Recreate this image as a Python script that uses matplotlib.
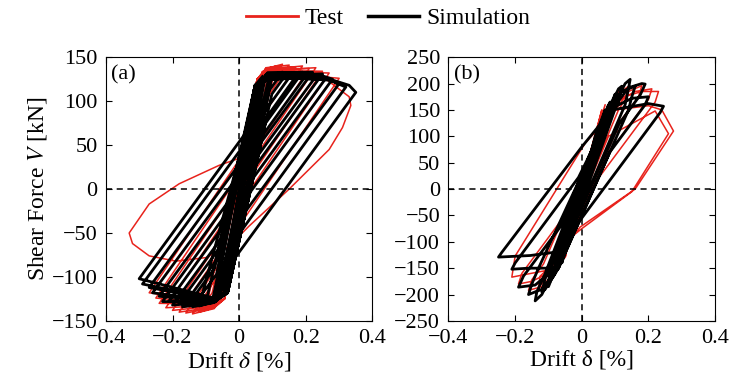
import matplotlib
matplotlib.use("Agg")
import matplotlib.pyplot as plt
from matplotlib.lines import Line2D

plt.rcParams['font.family'] = ['Liberation Serif', 'DejaVu Serif']
plt.rcParams['mathtext.fontset'] = 'stix'

RED = '#e8231c'

# ---- (a) test: drift [%], shear [kN], one continuous trace
a_test_x = [0, 0.03, 0.05, -0.03, -0.045, 0.02, 0.06, -0.02, -0.05,
            0.07, -0.054, -0.06,
            0.054, 0.09, -0.044, -0.08,
            0.064, 0.08, 0.11, -0.054, -0.075, -0.10,
            0.054, 0.08, 0.13, 0.092, -0.044, -0.075, -0.12,
            -0.081, 0.064, 0.08, 0.15, 0.068, -0.054, -0.075, -0.14,
            -0.059, 0.054, 0.08, 0.17, 0.072, -0.044, -0.075, -0.16,
            -0.063, 0.064, 0.08, 0.19, 0.049, -0.054, -0.075, -0.18,
            -0.039, 0.054, 0.08, 0.21, 0.052, -0.044, -0.075, -0.20,
            -0.043, 0.064, 0.08, 0.23, 0.029, -0.054, -0.075, -0.22,
            -0.017, 0.054, 0.08, 0.25, 0.031, -0.044, -0.075, -0.24,
            -0.018, 0.064, 0.08, 0.27, 0.006, -0.054, -0.075, -0.25,
            0.006, 0.054, 0.08, 0.30, 0.002, -0.044, -0.075, -0.27,
            0.005, 0.054, 0.08, 0.25, 0.33, 0.335,
            0.31, 0.27, 0.15, 0.03, -0.03, -0.10, -0.19, -0.27, -0.32, -0.33,
            -0.27, -0.18, -0.06, 0.0, 0.03]
a_test_y = [0, 80, 115, -80, -110, 50, 125, -60, -120,
            134, -125, -126,
            125, 138, -125, -132,
            125, 136, 140, -125, -133, -136,
            125, 137, 142, 121, -125, -135, -140,
            -118, 125, 138, 141, 95, -125, -136, -142,
            -96, 125, 137, 139, 84, -125, -135, -141,
            -87, 125, 136, 140, 61, -125, -134, -140,
            -61, 125, 136, 137, 48, -125, -133, -138,
            -50, 125, 135, 138, 26, -125, -132, -135,
            -21, 125, 135, 134, 12, -125, -131, -130,
            -6, 125, 134, 132, -16, -125, -130, -124,
            19, 125, 133, 126, -41, -125, -128, -118,
            36, 125, 132, 128, 105, 95,
            70, 45, 0, -42, -65, -78, -82, -76, -62, -50,
            -17, 6, 27, 35, 60]

# ---- (a) simulation
a_sim_x = [0, 0.04, 0.055, -0.03, -0.05, 0.02, 0.065, 0.075, -0.02, -0.055, -0.065,
           0.01, 0.05, 0.07, -0.04, -0.06, 0.035, 0.08, -0.01, -0.07,
           0.09, -0.045, -0.07,
           0.048, 0.10, -0.035, -0.08,
           0.058, 0.085, 0.13, 0.090, -0.045, -0.075, -0.10,
           0.048, 0.085, 0.14, 0.098, -0.035, -0.075, -0.12,
           0.058, 0.085, 0.16, 0.076, -0.045, -0.075, -0.14,
           -0.068, 0.048, 0.085, 0.17, 0.083, -0.035, -0.075, -0.15,
           -0.074, 0.058, 0.085, 0.19, 0.064, -0.045, -0.075, -0.17,
           -0.055, 0.048, 0.085, 0.20, 0.070, -0.035, -0.075, -0.18,
           -0.061, 0.058, 0.085, 0.22, 0.050, -0.045, -0.075, -0.20,
           -0.040, 0.048, 0.085, 0.23, 0.056, -0.035, -0.075, -0.21,
           -0.045, 0.058, 0.085, 0.25, 0.035, -0.045, -0.075, -0.23,
           -0.023, 0.048, 0.085, 0.26, 0.041, -0.035, -0.075, -0.24,
           -0.028, 0.058, 0.085, 0.24, 0.28, 0.017, -0.045, -0.075, -0.26,
           -0.001, 0.048, 0.085, 0.25, 0.30, 0.018, -0.035, -0.075, -0.27,
           -0.006, 0.058, 0.085, 0.27, 0.32, -0.008, -0.045, -0.075, -0.29,
           0.020, 0.048, 0.085, 0.28, 0.33, 0.35, -0.012, -0.035, -0.075, -0.30,
           0.016, 0.048, 0.07]
a_sim_y = [0, 95, 118, -85, -112, 40, 120, 126, -60, -118, -124,
           10, 105, 124, -100, -121, 70, 130, -40, -128,
           128, -118, -122,
           118, 131, -118, -126,
           118, 129, 133, 112, -118, -128, -130,
           118, 126, 130, 108, -118, -128, -133,
           118, 132, 132, 88, -118, -129, -134,
           -97, 118, 124, 128, 82, -118, -128, -130,
           -90, 118, 130, 133, 67, -118, -129, -134,
           -74, 118, 127, 129, 61, -118, -128, -130,
           -68, 118, 132, 133, 45, -118, -128, -132,
           -49, 118, 124, 128, 38, -118, -128, -127,
           -41, 118, 129, 131, 19, -118, -128, -128,
           -20, 118, 126, 126, 12, -118, -127, -122,
           -12, 118, 129, 130, 125, -12, -118, -127, -118,
           16, 118, 127, 127, 120, -26, -118, -126, -112,
           25, 118, 128, 124, 116, -55, -118, -125, -108,
           53, 118, 128, 124, 118, 110, -78, -118, -124, -102,
           62, 118, 128]

# ---- (b) test
b_test_x = [0, 0.03, 0.06, -0.03, -0.05, 0.01, 0.07, -0.02, -0.06,
            0.04, 0.05, 0.045, -0.035, -0.04, -0.035,
            0.06, 0.08, 0.075, -0.06, -0.07, -0.065,
            0.08, 0.10, 0.11, 0.105, -0.08, -0.10, -0.095,
            0.09, 0.12, 0.14, 0.135, 0.11, -0.09, -0.12, -0.13, -0.125, -0.10,
            0.09, 0.14, 0.18, 0.17, 0.116, -0.07, -0.12, -0.16, -0.15, -0.115,
            0.09, 0.16, 0.21, 0.20, 0.069, -0.07, -0.15, -0.19, -0.18, -0.057,
            0.10, 0.18, 0.23, 0.22, 0.035, -0.07, -0.17, -0.21, -0.20, 0.01,
            0.10, 0.20, 0.24, 0.275, 0.16, -0.005, -0.06, -0.09, -0.08, 0.0,
            0.08, 0.22, 0.26, 0.15, 0.0, -0.03]
b_test_y = [0, 80, 150, -70, -130, 40, 160, -50, -140,
            100, 120, 100, -85, -100, -82,
            130, 160, 140, -120, -140, -118,
            150, 178, 185, 165, -145, -165, -145,
            150, 185, 195, 175, 150, -150, -180, -185, -165, -150,
            140, 185, 196, 175, 129, -150, -185, -192, -172, -142,
            160, 185, 190, 170, 58, -150, -175, -180, -160, -55,
            170, 185, 185, 165, 8, -150, -162, -167, -127, 87,
            150, 158, 150, 110, 0, -72, -115, -140, -120, -20,
            100, 148, 105, -5, -75, -90]

# ---- (b) simulation
b_sim_x = [0, 0.04, 0.07, -0.03, -0.06, 0.02, 0.09, 0.10, -0.02, -0.08, -0.09,
           0.0, 0.06, 0.085, -0.05, -0.085, 0.03, 0.11, -0.01, -0.10,
           0.05, 0.06, 0.055, -0.045, -0.05, -0.045,
           0.065, 0.08, 0.075, -0.065, -0.08, -0.075,
           0.08, 0.10, 0.095, -0.08, -0.10, -0.095,
           0.08, 0.11, 0.12, 0.11, -0.07, -0.11, -0.12, -0.11,
           0.09, 0.13, 0.145, 0.14, 0.13, -0.08, -0.12, -0.14, -0.135, -0.11,
           0.08, 0.12, 0.16, 0.15, 0.14, -0.07, -0.12, -0.16, -0.15, -0.13,
           0.09, 0.14, 0.18, 0.19, 0.175, 0.112, -0.08, -0.14, -0.19, -0.175,
           -0.065, 0.08, 0.15, 0.20, 0.19, 0.084, -0.07, -0.16, -0.21, -0.20,
           -0.010, 0.09, 0.20, 0.245, 0.235, -0.033, -0.06, -0.155, -0.25, -0.24,
           0.0, 0.09, 0.11]
b_sim_y = [0, 100, 150, -80, -140, 60, 160, 170, -60, -160, -170,
           10, 120, 165, -120, -165, 70, 180, -40, -185,
           115, 130, 110, -95, -110, -92,
           135, 160, 140, -130, -150, -128,
           150, 180, 160, -150, -175, -155,
           150, 190, 195, 170, -150, -190, -195, -170,
           150, 200, 208, 190, 160, -150, -200, -212, -195, -160,
           150, 185, 195, 175, 150, -150, -190, -200, -180, -150,
           150, 192, 200, 199, 178, 124, -150, -182, -186, -165,
           -72, 150, 172, 175, 160, 70, -150, -150, -152, -140,
           22, 150, 162, 157, 145, -83, -118, -126, -129, -120,
           80, 150, 165]

fig, axes = plt.subplots(1, 2, figsize=(7.35, 3.89), dpi=100)
fig.subplots_adjust(left=0.144, right=0.973, bottom=0.175, top=0.853, wspace=0.285)

panels = [
    (axes[0], a_test_x, a_test_y, a_sim_x, a_sim_y, 150, 50, '(a)', r'Drift $\delta$ [%]'),
    (axes[1], b_test_x, b_test_y, b_sim_x, b_sim_y, 250, 50, '(b)', 'Drift δ [%]'),
]

for ax, tx, ty, sx, sy, lim, step, tag, xl in panels:
    ax.plot(tx, ty, color=RED, lw=1.1, solid_joinstyle='round')
    ax.plot(sx, sy, color='black', lw=2.0, solid_joinstyle='round')
    ax.axhline(0, color='black', lw=1.1, ls=(0, (4, 3)))
    ax.axvline(0, color='black', lw=1.1, ls=(0, (4, 3)))
    ax.set_xlim(-0.4, 0.4)
    ax.set_ylim(-lim, lim)
    ax.set_xticks([-0.4, -0.2, 0, 0.2, 0.4])
    ax.set_xticklabels(['\u22120.4', '\u22120.2', '0', '0.2', '0.4'])
    ax.set_yticks(range(-lim, lim + 1, step))
    ax.tick_params(direction='in', top=True, right=True, labelsize=16, length=4)
    ax.tick_params(axis='x', pad=6)
    ax.tick_params(axis='y', pad=6)
    ax.set_xlabel(xl, fontsize=17, labelpad=1)
    ax.text(0.02, 0.97, tag, transform=ax.transAxes, fontsize=16, va='top', ha='left')

axes[0].set_ylabel(r'Shear Force $V$ [kN]', fontsize=17, labelpad=2)

handles = [Line2D([], [], color=RED, lw=2), Line2D([], [], color='black', lw=2.5)]
fig.legend(handles, ['Test', 'Simulation'], loc='center', bbox_to_anchor=(0.528, 0.952),
           ncol=2, frameon=False, fontsize=17, handlelength=2.2, handletextpad=0.3,
           columnspacing=1.0)

fig.savefig('out.png', dpi=100)
